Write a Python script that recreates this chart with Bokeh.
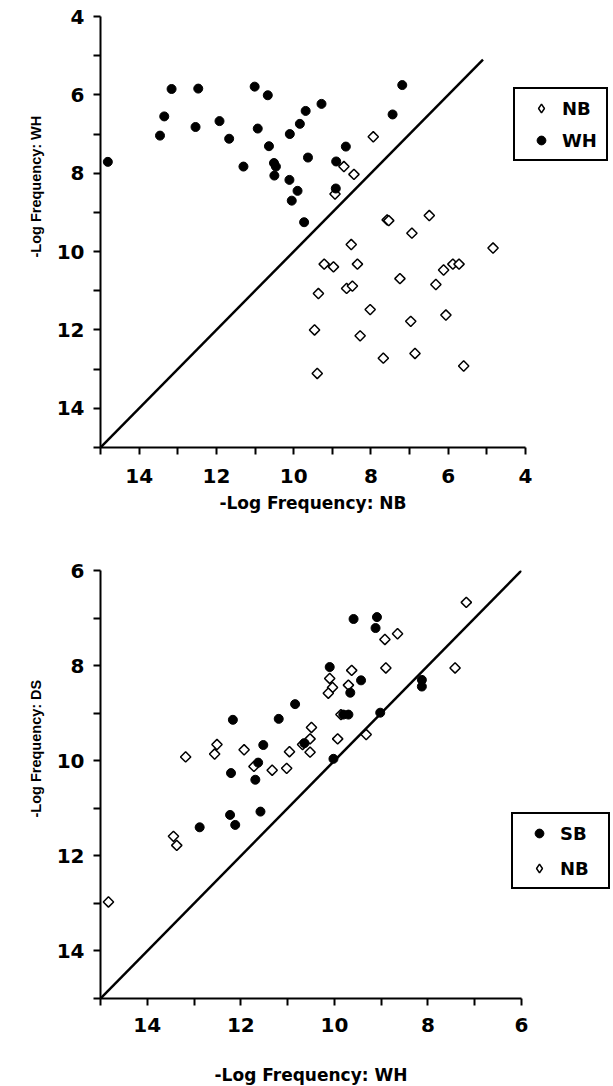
import math
from bokeh.plotting import figure
from bokeh.models import Range1d, FixedTicker, Legend, LegendItem, Title
from bokeh.layouts import column
from bokeh.embed import file_html
from bokeh.resources import INLINE

# ---------------- data: top panel (x = -Log Frequency: NB, y = -Log Frequency: WH)
top_wh_x = [14.81, 13.46, 13.35, 13.16, 12.47, 12.54, 11.92, 11.67, 11.30, 11.01,
            10.93, 10.67, 10.64, 10.51, 10.46, 10.50, 10.10, 10.11, 9.84, 9.69,
            9.63, 9.90, 10.05, 9.73, 9.28, 8.90, 8.91, 7.19, 7.44, 8.65]
top_wh_y = [7.71, 7.04, 6.55, 5.85, 5.84, 6.82, 6.67, 7.12, 7.83, 5.79,
            6.86, 6.01, 7.31, 7.74, 7.83, 8.06, 7.00, 8.17, 6.74, 6.41,
            7.60, 8.45, 8.70, 9.25, 6.23, 7.70, 8.39, 5.75, 6.50, 7.32]
top_nb_x = [7.94, 8.70, 8.44, 8.93, 7.58, 7.54, 6.49, 6.94, 8.51, 4.84,
            8.97, 8.35, 8.63, 8.48, 8.02, 7.25, 6.12, 5.88, 5.72, 6.32,
            6.06, 6.97, 8.28, 7.68, 6.86, 5.60, 9.21, 9.36, 9.46, 9.39]
top_nb_y = [7.07, 7.83, 8.03, 8.53, 9.19, 9.21, 9.08, 9.53, 9.82, 9.91,
            10.39, 10.32, 10.94, 10.88, 11.48, 10.69, 10.47, 10.32, 10.32, 10.84,
            11.62, 11.78, 12.15, 12.72, 12.60, 12.92, 10.32, 11.07, 12.00, 13.11]
top_diag = [15, 5.1]
top_major = [4, 6, 8, 10, 12, 14]
top_minor = [5, 7, 9, 11, 13, 15]

# ---------------- data: bottom panel (x = -Log Frequency: WH, y = -Log Frequency: DS)
bot_sb_x = [10.10, 10.84, 11.19, 12.17, 11.52, 11.63, 12.21, 11.69, 10.02, 10.64,
            12.23, 12.12, 11.58, 12.88, 9.59, 9.09, 9.12, 9.43, 9.66, 8.13,
            8.13, 9.81, 9.70, 9.02]
bot_sb_y = [8.03, 8.81, 9.12, 9.14, 9.67, 10.04, 10.26, 10.40, 9.96, 9.63,
            11.14, 11.35, 11.07, 11.40, 7.02, 6.98, 7.21, 8.31, 8.57, 8.30,
            8.44, 9.03, 9.03, 8.99]
bot_nb_x = [10.10, 10.04, 10.13, 10.49, 10.52, 10.68, 10.52, 9.93, 10.96, 12.51,
            12.56, 11.93, 13.18, 11.72, 11.33, 11.02, 13.44, 13.37, 14.83, 7.18,
            8.65, 8.92, 8.90, 7.42, 9.63, 9.70, 9.32, 9.86]
bot_nb_y = [8.27, 8.46, 8.58, 9.30, 9.54, 9.66, 9.82, 9.54, 9.81, 9.66,
            9.86, 9.77, 9.92, 10.12, 10.20, 10.16, 11.59, 11.78, 12.97, 6.67,
            7.33, 7.45, 8.05, 8.05, 8.10, 8.41, 9.45, 9.03]
bot_diag = [15, 6]
bot_major = [6, 8, 10, 12, 14]
bot_minor = [7, 9, 11, 13, 15]

TICK_FONT = "DejaVu Sans"
YTITLE_FONT = "Liberation Sans"


def style_axis(ax, major, minor, standoff):
    ax.ticker = FixedTicker(ticks=major, minor_ticks=minor)
    ax.axis_line_width = 2
    ax.axis_line_color = "black"
    ax.major_tick_line_width = 2
    ax.minor_tick_line_width = 2
    ax.major_tick_line_color = "black"
    ax.minor_tick_line_color = "black"
    ax.major_tick_in = 0
    ax.major_tick_out = 7
    ax.minor_tick_in = 0
    ax.minor_tick_out = 7
    ax.major_label_text_font = TICK_FONT
    ax.major_label_text_font_style = "bold"
    ax.major_label_text_font_size = "20px"
    ax.major_label_text_color = "black"
    ax.major_label_standoff = standoff


def x_title(ax, label, label_standoff):
    ax.axis_label = label
    ax.axis_label_text_font = TICK_FONT
    ax.axis_label_text_font_style = "bold"
    ax.axis_label_text_font_size = "17px"
    ax.axis_label_text_color = "black"
    ax.axis_label_standoff = label_standoff


def y_title(p, label, offset, standoff):
    t = Title(text=label, align="left", offset=offset, standoff=standoff,
              text_font=YTITLE_FONT, text_font_style="bold",
              text_font_size="14.5px", text_color="black")
    p.add_layout(t, "left")


def make_fig(xr, yr, fw, fh, bl, br, bt, bb):
    p = figure(x_range=Range1d(*xr), y_range=Range1d(*yr),
               frame_width=fw, frame_height=fh,
               min_border_left=bl, min_border_right=br,
               min_border_top=bt, min_border_bottom=bb,
               output_backend="svg", toolbar_location=None)
    p.outline_line_color = None
    p.grid.visible = False
    p.background_fill_color = "white"
    p.border_fill_color = "white"
    return p


def style_legend(lg, spacing, label_width):
    lg.border_line_color = "black"
    lg.border_line_width = 2
    lg.border_line_alpha = 1
    lg.background_fill_color = "white"
    lg.background_fill_alpha = 1
    lg.padding = 8
    lg.margin = 0
    lg.spacing = spacing
    lg.glyph_width = 36
    lg.glyph_height = 22
    lg.label_height = 22
    lg.label_width = label_width
    lg.label_standoff = 3
    lg.label_text_font = TICK_FONT
    lg.label_text_font_style = "bold"
    lg.label_text_font_size = "18px"
    lg.label_text_color = "black"
    lg.label_text_baseline = "middle"


def nb_series(p, xs, ys):
    # tiny diamonds hidden under the open markers: they give the legend its symbol
    proxy = p.scatter(xs, ys, marker="diamond", size=1,
                      fill_color="white", line_color="black", line_width=1.5)
    p.scatter(xs, ys, marker="square", angle=math.pi / 4, size=7.3,
              fill_color="white", line_color="black", line_width=1.5)
    return proxy


# ---------------- top figure
p1 = make_fig((15, 4), (15, 4), 425, 431, 100, 80, 16, 91)
p1.line(top_diag, top_diag, line_color="black", line_width=2.5)
r_nb1 = nb_series(p1, top_nb_x, top_nb_y)
r_wh1 = p1.scatter(top_wh_x, top_wh_y, marker="circle", size=9,
                   fill_color="black", line_color="black")
style_axis(p1.xaxis[0], top_major, top_minor, 14)
style_axis(p1.yaxis[0], top_major, top_minor, 9)
x_title(p1.xaxis[0], "-Log Frequency: NB", 7)
y_title(p1, "-Log Frequency: WH", 190, 20)
lg1 = Legend(items=[LegendItem(label="NB", renderers=[r_nb1]),
                    LegendItem(label="WH", renderers=[r_wh1])],
             location=(-12, 286))
style_legend(lg1, 10, 36)
p1.add_layout(lg1, "right")

# ---------------- bottom figure
p2 = make_fig((15, 6), (15, 6), 421, 428, 99, 85, 32, 88)
p2.line(bot_diag, bot_diag, line_color="black", line_width=2.5)
r_nb2 = nb_series(p2, bot_nb_x, bot_nb_y)
r_sb2 = p2.scatter(bot_sb_x, bot_sb_y, marker="circle", size=9,
                   fill_color="black", line_color="black")
style_axis(p2.xaxis[0], bot_major, bot_minor, 12)
style_axis(p2.yaxis[0], bot_major, bot_minor, 9)
x_title(p2.xaxis[0], "-Log Frequency: WH", 30)
y_title(p2, "-Log Frequency: DS", 181, 20)
lg2 = Legend(items=[LegendItem(label="SB", renderers=[r_sb2]),
                    LegendItem(label="NB", renderers=[r_nb2])],
             location=(-10, 109))
style_legend(lg2, 13, 40)
p2.add_layout(lg2, "right")

layout = column(p1, p2, spacing=0)
open("out.html", "w").write(file_html(layout, INLINE))
